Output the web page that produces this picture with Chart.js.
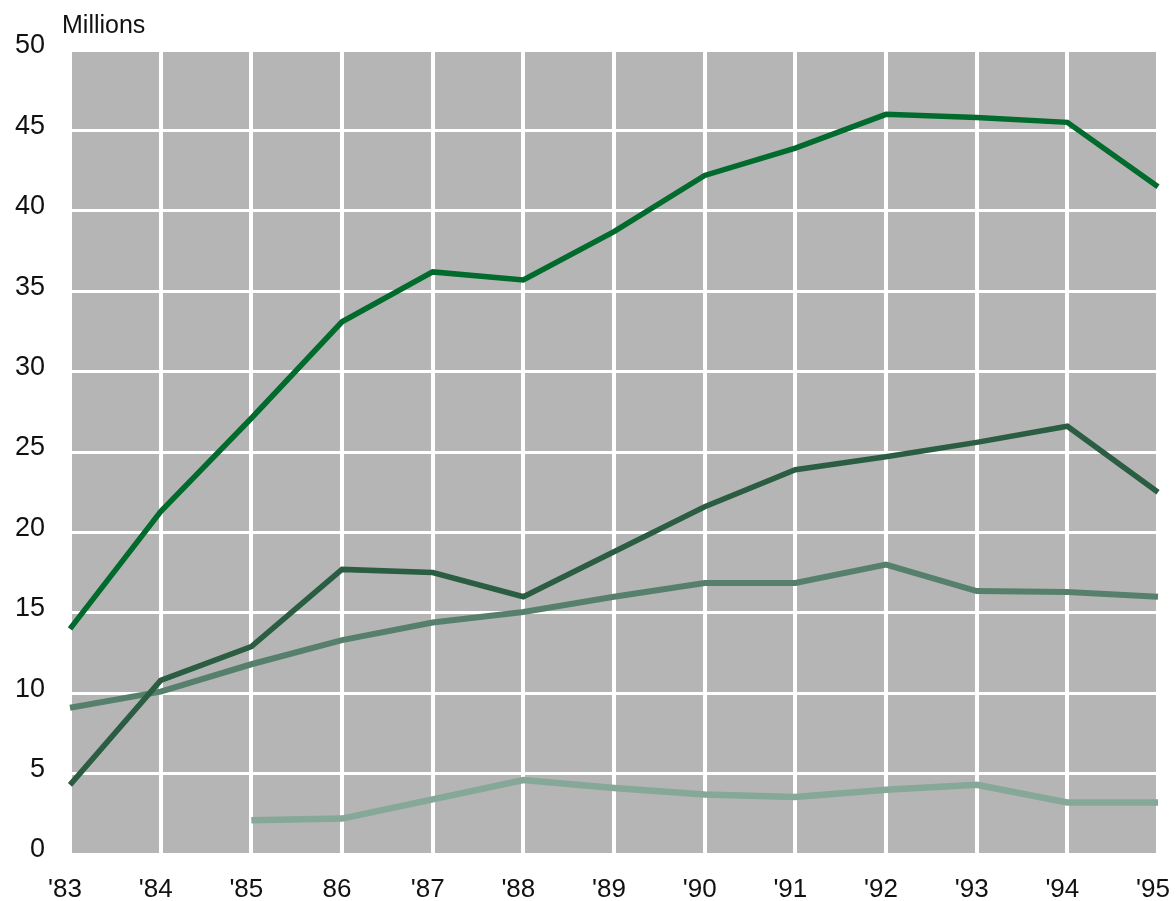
<!DOCTYPE html>
<html>
<head>
<meta charset="utf-8">
<script src="https://cdn.jsdelivr.net/npm/chart.js@4/dist/chart.umd.min.js"></script>
<style>
  html, body { margin: 0; padding: 0; background: #ffffff; }
  #wrap { width: 1176px; height: 901px; position: relative; }
</style>
</head>
<body>
<div id="wrap"><canvas id="chart"></canvas></div>
<script>
// Year labels along the bottom axis
const years = ["'83", "'84", "'85", "86", "'87", "'88", "'89", "'90", "'91", "'92", "'93", "'94", "'95"];

// Series values, in millions
const seriesA = [14.0, 21.3, 27.1, 33.1, 36.2, 35.7, 38.7, 42.2, 43.9, 46.0, 45.8, 45.5, 41.5];
const seriesB = [4.3, 10.8, 12.9, 17.7, 17.5, 16.0, 18.8, 21.6, 23.9, 24.7, 25.6, 26.6, 22.5];
const seriesC = [9.1, 10.1, 11.8, 13.3, 14.4, 15.05, 16.0, 16.85, 16.85, 18.0, 16.35, 16.3, 16.0];
const seriesD = [null, null, 2.1, 2.2, 3.4, 4.6, 4.1, 3.7, 3.55, 4.0, 4.3, 3.2, 3.2];

// Value axis ticks
const yTicks = [0, 5, 10, 15, 20, 25, 30, 35, 40, 45, 50];

const FONT = "'Liberation Sans', Arial, sans-serif";

// Grey plot backdrop behind the grid
const plotBackground = {
  id: 'plotBackground',
  beforeDraw(chart) {
    const { ctx, chartArea: a } = chart;
    ctx.save();
    ctx.fillStyle = '#b5b5b5';
    ctx.fillRect(a.left, a.top, a.right - a.left, a.bottom - a.top);
    ctx.restore();
  }
};

// Unit caption above the value axis
const unitCaption = {
  id: 'unitCaption',
  afterDraw(chart) {
    const { ctx, chartArea: a } = chart;
    ctx.save();
    ctx.fillStyle = '#111111';
    ctx.font = '25px ' + FONT;
    ctx.textAlign = 'left';
    ctx.textBaseline = 'middle';
    ctx.fillText('Millions', a.left - 8, a.top - 24);
    ctx.restore();
  }
};

const line = (data, color, width) => ({
  data,
  borderColor: color,
  backgroundColor: color,
  borderWidth: width,
  pointRadius: 0,
  pointHoverRadius: 0,
  tension: 0,
  fill: false,
  spanGaps: false,
  borderJoinStyle: 'miter',
  borderCapStyle: 'butt'
});

new Chart(document.getElementById('chart'), {
  type: 'line',
  data: {
    labels: years,
    datasets: [
      line(seriesA, '#006b2c', 5.5),
      line(seriesB, '#2a5d42', 5.5),
      line(seriesC, '#56806c', 6),
      line(seriesD, '#86a898', 6.5)
    ]
  },
  options: {
    responsive: true,
    maintainAspectRatio: false,
    animation: false,
    events: [],
    layout: { padding: { top: 50, right: 18, left: 0, bottom: 0 } },
    plugins: {
      legend: { display: false },
      tooltip: { enabled: false },
      title: { display: false }
    },
    scales: {
      x: {
        type: 'category',
        offset: false,
        grid: {
          color: '#ffffff',
          lineWidth: 4,
          drawTicks: false
        },
        border: { display: false },
        ticks: {
          color: '#111111',
          font: { family: FONT, size: 26 },
          padding: 20,
          labelOffset: -5,
          maxRotation: 0,
          autoSkip: false
        },
        afterFit(scale) {
          scale.height = 47;
          scale.paddingLeft = 0;
          scale.paddingRight = 0;
        }
      },
      y: {
        min: 0,
        max: 50,
        afterBuildTicks(scale) {
          scale.ticks = yTicks.map(v => ({ value: v }));
        },
        grid: {
          color: '#ffffff',
          lineWidth: 3,
          drawTicks: false
        },
        border: { display: false },
        ticks: {
          color: '#111111',
          font: { family: FONT, size: 27 },
          padding: 25,
          labelOffset: -4
        },
        afterFit(scale) {
          scale.width = 70;
          scale.paddingTop = 0;
          scale.paddingBottom = 0;
        }
      }
    }
  },
  plugins: [plotBackground, unitCaption]
});
</script>
</body>
</html>
